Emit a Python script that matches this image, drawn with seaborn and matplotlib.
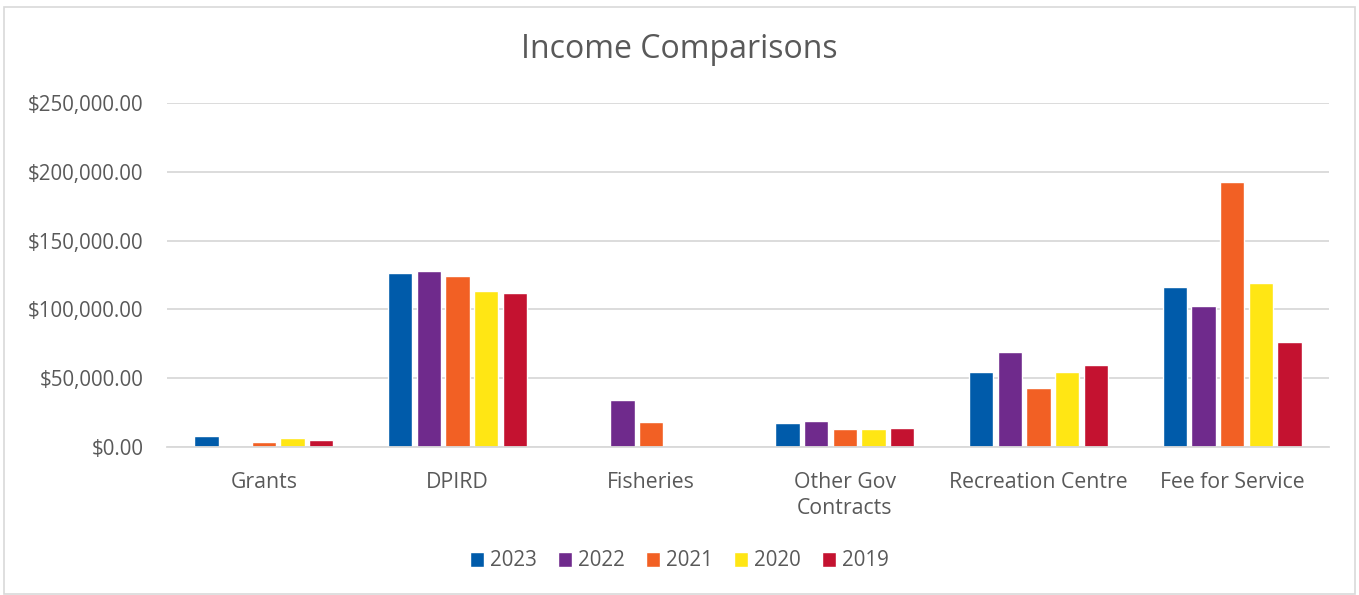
import matplotlib
matplotlib.use("Agg")
import matplotlib.pyplot as plt
import matplotlib.ticker as mticker
from matplotlib.patches import Rectangle
import seaborn as sns
import pandas as pd

categories = ["Grants", "DPIRD", "Fisheries", "Other Gov\nContracts", "Recreation Centre", "Fee for Service"]
years = ["2023", "2022", "2021", "2020", "2019"]
v2023 = [8000, 126600, 0, 17500, 54700, 116200]
v2022 = [0, 127900, 34500, 18700, 68800, 102200]
v2021 = [3600, 124000, 18000, 13400, 42600, 192500]
v2020 = [6300, 113300, 0, 13100, 54700, 118900]
v2019 = [4900, 112100, 0, 13600, 59600, 76300]
colors = ["#005BAA", "#6F2A8C", "#F26024", "#FFE614", "#C41230"]

series = [v2023, v2022, v2021, v2020, v2019]
rows = []
for y, vals in zip(years, series):
    for c, v in zip(categories, vals):
        rows.append({"Category": c, "Year": y, "Value": v})
df = pd.DataFrame(rows)

sns.set_theme(style="white")
plt.rcParams["font.family"] = ["Open Sans", "DejaVu Sans"]
text_color = "#595959"

fig = plt.figure(figsize=(13.59, 5.95), dpi=100)
ax = fig.add_axes([167 / 1359, 1 - 447 / 595, (1329 - 167) / 1359, (447 - 103) / 595])

sns.barplot(data=df, x="Category", y="Value", hue="Year", order=categories,
            hue_order=years, palette=colors, width=0.74, gap=0.15,
            errorbar=None, ax=ax, saturation=1, legend=True)

ax.set_ylim(0, 250000)
ax.set_xlim(-0.5, len(categories) - 0.5)
ax.yaxis.set_major_locator(mticker.MultipleLocator(50000))
ax.yaxis.set_major_formatter(mticker.FuncFormatter(lambda v, p: f"${v:,.2f}"))
ax.grid(axis="y", color="#D9D9D9", linewidth=1.3)
ax.set_axisbelow(True)
for s in ["top", "right", "left"]:
    ax.spines[s].set_visible(False)
ax.spines["bottom"].set_color("#D9D9D9")
ax.spines["bottom"].set_linewidth(1.3)
ax.tick_params(axis="both", length=0, colors=text_color)
ax.tick_params(axis="y", pad=17, labelsize=14.8)
ax.tick_params(axis="x", pad=18, labelsize=15.3)
for lbl in ax.get_xticklabels():
    lbl.set_linespacing(1.3)
ax.set_xlabel("")
ax.set_ylabel("")

fig.text(0.5, 1 - 50 / 595, "Income Comparisons", ha="center", va="center",
         fontsize=23, color=text_color)

handles, labels = ax.get_legend_handles_labels()
ax.get_legend().remove()
fig.legend(handles, labels, loc="center", bbox_to_anchor=(0.5, 1 - 561 / 595),
           ncol=5, frameon=False, fontsize=14.8, labelcolor=text_color,
           handlelength=0.7, handleheight=0.7, handletextpad=0.3, columnspacing=1.0)

fig.patches.append(Rectangle((4 / 1359, 0.002), 1 - 8 / 1359, 1 - 8 / 595,
                             transform=fig.transFigure, fill=False,
                             edgecolor="#D9D9D9", linewidth=1.2))

fig.savefig("out.png", dpi=100)
